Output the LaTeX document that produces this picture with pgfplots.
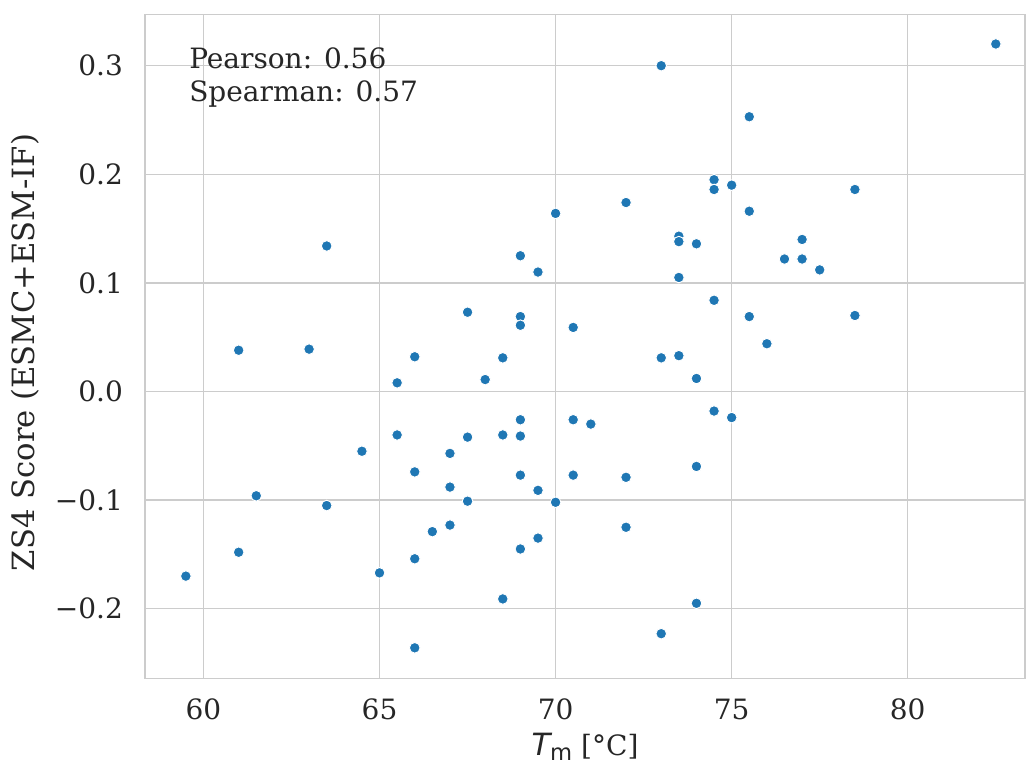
\documentclass[border=0pt]{standalone}
\usepackage{fontspec}
\setmainfont{DejaVu Serif}
\newfontfamily\dvsans{DejaVu Sans}
\usepackage{pgfplots}
\pgfplotsset{compat=1.18}
\definecolor{pt}{HTML}{1F77B4}
\definecolor{gridc}{HTML}{CCCCCC}
\definecolor{txt}{HTML}{262626}
\pgfplotstableread{
x y
59.5 -0.170
61 0.038
61 -0.148
61.5 -0.096
63 0.039
63.5 0.134
63.5 -0.105
64.5 -0.055
65 -0.167
65.5 0.008
65.5 -0.040
66 0.032
66 -0.074
66 -0.154
66 -0.236
66.5 -0.129
67 -0.057
67 -0.088
67 -0.123
67.5 0.073
67.5 -0.042
67.5 -0.101
68 0.011
68.5 0.031
68.5 -0.040
68.5 -0.191
69 0.125
69 0.069
69 0.061
69 -0.026
69 -0.041
69 -0.077
69 -0.145
69.5 0.110
69.5 -0.091
69.5 -0.135
70 0.164
70 -0.102
70.5 0.059
70.5 -0.026
70.5 -0.077
71 -0.030
72 0.174
72 -0.079
72 -0.125
73 0.300
73 0.031
73 -0.223
73.5 0.143
73.5 0.138
73.5 0.105
73.5 0.033
74 0.136
74 0.012
74 -0.069
74 -0.195
74.5 0.195
74.5 0.186
74.5 0.084
74.5 -0.018
75 0.190
75 -0.024
75.5 0.253
75.5 0.166
75.5 0.069
76 0.044
76.5 0.122
77 0.140
77 0.122
77.5 0.112
78.5 0.186
78.5 0.070
82.5 0.320
}\scatterdata
\begin{document}
\begin{tikzpicture}
\begin{axis}[
  at={(108.75pt,65pt)}, anchor=south west,
  scale only axis, width=660pt, height=498pt,
  xmin=58.34, xmax=83.33, ymin=-0.2641, ymax=0.3473,
  xtick={60,65,70,75,80}, xticklabels={60,65,70,75,80},
  ytick={-0.2,-0.1,0,0.1,0.2,0.3},
  yticklabels={−0.2,−0.1,0.0,0.1,0.2,0.3},
  major tick length=0pt,
  grid=major, grid style={gridc, line width=1pt},
  axis line style={gridc, line width=1.2pt},
  tick label style={font=\fontsize{21}{25}\selectfont, text=txt},
  yticklabel style={xshift=-13pt},
  xticklabel style={yshift=-12pt},
  label style={font=\fontsize{21}{25}\selectfont, text=txt},
  xlabel={{\dvsans\fontsize{23}{25}\selectfont\itshape T}\raisebox{-4.3pt}{\dvsans\fontsize{17}{17}\selectfont m} [°C]},
  xlabel style={at={(axis description cs:0.5,0)}, anchor=base, yshift=-57.5pt},
  ylabel={ZS4 Score (ESMC+ESM-IF)},
  ylabel style={at={(axis description cs:-0.125,0.4907)}, rotate=0, anchor=base, font=\fontsize{23}{27}\selectfont},
  clip=false,
]
\addplot[only marks, mark=*, mark size=4pt, mark options={fill=pt, draw=white, line width=0.7pt}] table[x=x,y=y] {\scatterdata};
\node[anchor=north west, inner sep=0pt, align=left, font=\fontsize{21}{25}\selectfont, text=txt] at (rel axis cs:0.05,0.95) {Pearson: 0.56\\Spearman: 0.57};
\end{axis}
\pgfresetboundingbox
\path (0,0) rectangle (769.5pt,573.75pt);
\end{tikzpicture}
\end{document}
